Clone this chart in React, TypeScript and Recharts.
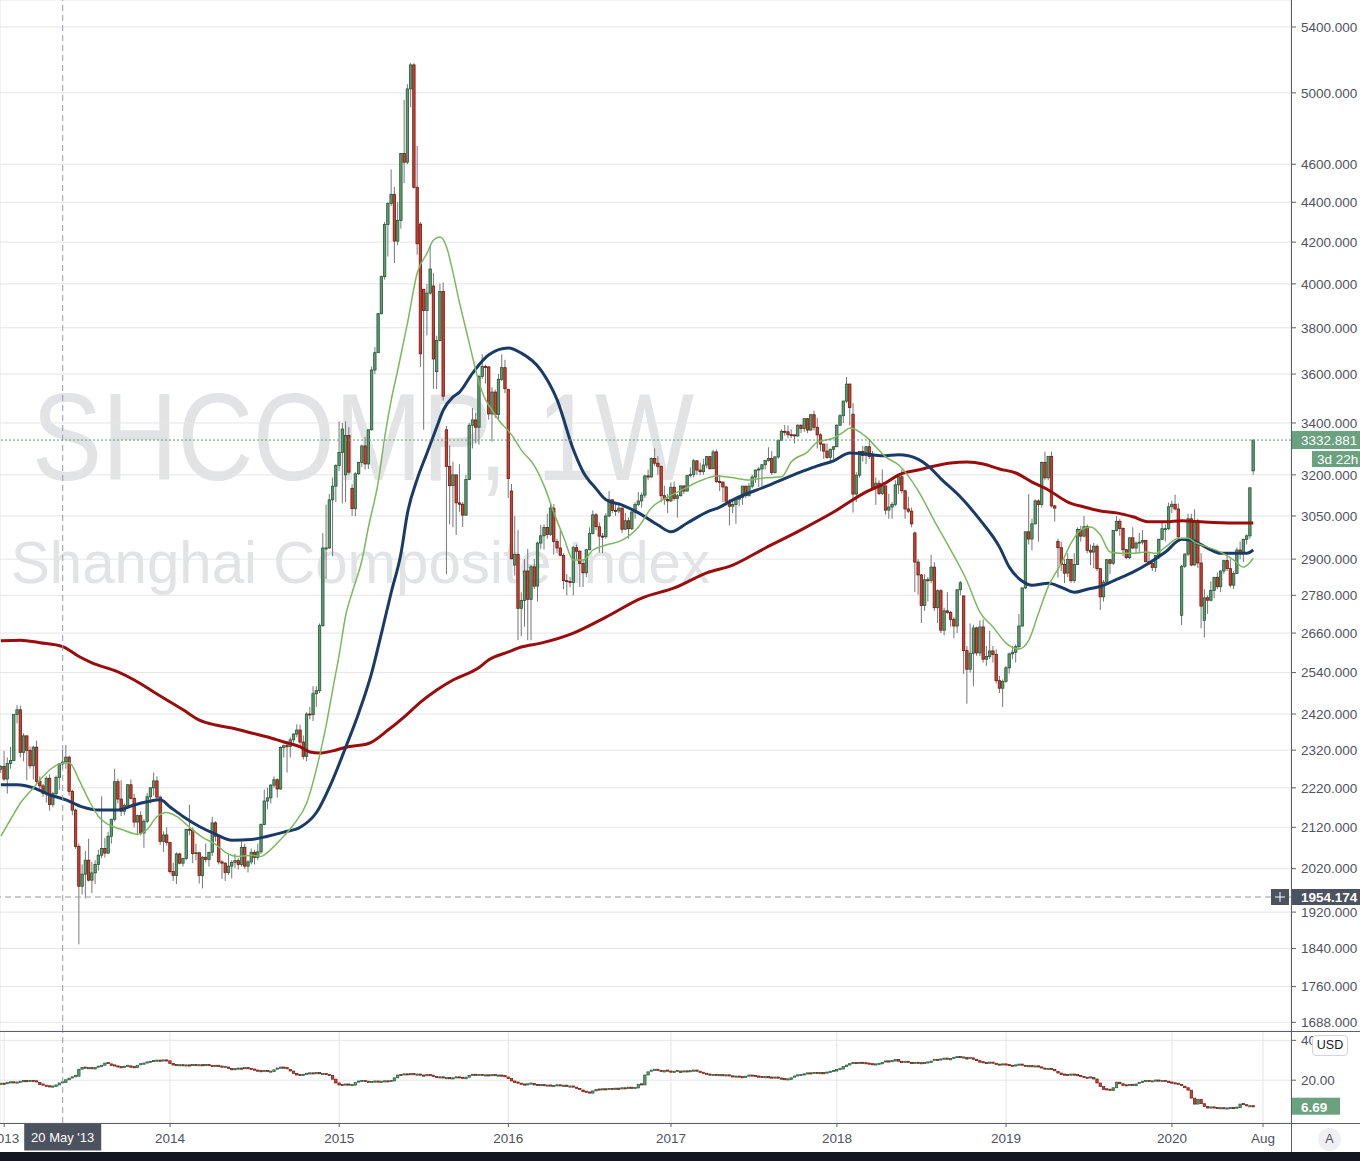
import React from 'react';
import { ComposedChart, Bar, Line, XAxis, YAxis, CartesianGrid, ReferenceLine } from 'recharts';

type OHLC = [number, number, number, number];

// ---------- weekly candles [open, high, low, close] ----------
const bars2013: OHLC[] = [
  [2269, 2280, 2259, 2276], [2276, 2318, 2238, 2243], [2243, 2300, 2205, 2284], [2284, 2329, 2270, 2292],
  [2292, 2420, 2290, 2419], [2419, 2445, 2394, 2432], [2432, 2444, 2300, 2314], [2314, 2366, 2290, 2359],
  [2359, 2360, 2240, 2319], [2319, 2330, 2270, 2278], [2278, 2332, 2242, 2328], [2328, 2346, 2230, 2237],
  [2237, 2250, 2215, 2225], [2225, 2230, 2197, 2206], [2206, 2250, 2182, 2245], [2245, 2255, 2162, 2177],
  [2177, 2210, 2170, 2205], [2205, 2252, 2200, 2247], [2247, 2286, 2215, 2283], [2283, 2320, 2270, 2288],
  [2288, 2334, 2270, 2301], [2301, 2305, 2200, 2211], [2211, 2215, 2150, 2163], [2163, 2167, 2067, 2073],
  [2073, 2080, 1849, 1979], [1979, 2030, 1960, 2007], [2007, 2062, 1951, 2040], [2040, 2092, 1990, 1993],
  [1993, 2036, 1963, 2010], [2010, 2040, 1984, 2030], [2030, 2065, 2015, 2052], [2052, 2198, 2045, 2068],
  [2068, 2094, 2046, 2057], [2057, 2109, 2055, 2098], [2098, 2141, 2080, 2140], [2140, 2270, 2135, 2236],
  [2236, 2244, 2180, 2191], [2191, 2240, 2148, 2160], [2160, 2180, 2150, 2175], [2175, 2230, 2170, 2228],
  [2228, 2242, 2190, 2193], [2193, 2205, 2120, 2133], [2133, 2152, 2100, 2149], [2149, 2160, 2100, 2106],
  [2106, 2140, 2070, 2135], [2135, 2207, 2130, 2197], [2197, 2222, 2180, 2220], [2220, 2260, 2200, 2238],
  [2238, 2250, 2190, 2196], [2196, 2200, 2077, 2085], [2085, 2110, 2060, 2101], [2101, 2120, 2075, 2083],
];
const bars2014: OHLC[] = [
  [2083, 2083, 2008, 2013], [2013, 2034, 1991, 2004], [2004, 2059, 1984, 2055], [2055, 2058, 2030, 2033],
  [2033, 2045, 2025, 2044], [2044, 2116, 2040, 2115], [2115, 2177, 2100, 2113], [2113, 2120, 2033, 2056],
  [2056, 2080, 2040, 2058], [2058, 2060, 1985, 2004], [2004, 2050, 1974, 2047], [2047, 2080, 2035, 2042],
  [2042, 2060, 2025, 2059], [2059, 2146, 2050, 2131], [2131, 2135, 2085, 2098], [2098, 2100, 2030, 2036],
  [2036, 2040, 1996, 2033], [2033, 2035, 1991, 2011], [2011, 2054, 2005, 2026], [2026, 2040, 1997, 2035],
  [2035, 2055, 2022, 2039], [2039, 2045, 2018, 2030], [2030, 2085, 2025, 2071], [2071, 2080, 2020, 2026],
  [2026, 2040, 2011, 2036], [2036, 2068, 2030, 2059], [2059, 2065, 2030, 2047], [2047, 2080, 2040, 2060],
  [2060, 2130, 2055, 2127], [2127, 2215, 2125, 2186], [2186, 2220, 2165, 2194], [2194, 2230, 2180, 2227],
  [2227, 2250, 2220, 2241], [2241, 2245, 2195, 2217], [2217, 2330, 2215, 2327], [2327, 2335, 2300, 2332],
  [2332, 2345, 2260, 2330], [2330, 2355, 2300, 2348], [2348, 2366, 2340, 2364], [2364, 2391, 2355, 2375],
  [2375, 2390, 2330, 2342], [2342, 2360, 2295, 2303], [2303, 2425, 2290, 2420], [2420, 2440, 2405, 2418],
  [2418, 2500, 2400, 2478], [2478, 2500, 2440, 2487], [2487, 2690, 2480, 2683], [2683, 2990, 2680, 2938],
  [2938, 3091, 2835, 2938], [2938, 3129, 2935, 3108], [3108, 3190, 2910, 3158], [3158, 3240, 3100, 3235],
];
const bars2015: OHLC[] = [
  [3235, 3406, 3214, 3285], [3285, 3400, 3095, 3376], [3200, 3406, 3100, 3351], [3351, 3383, 3200, 3210],
  [3150, 3165, 3050, 3076], [3076, 3210, 3049, 3204], [3204, 3250, 3200, 3247], [3247, 3315, 3230, 3310],
  [3310, 3345, 3220, 3241], [3241, 3375, 3222, 3373], [3373, 3632, 3370, 3617], [3617, 3715, 3600, 3691],
  [3691, 3865, 3690, 3863], [3863, 4040, 3860, 4034], [4034, 4300, 4020, 4287], [4287, 4400, 4130, 4394],
  [4394, 4572, 4380, 4441], [4441, 4480, 4099, 4205], [4205, 4400, 4185, 4308], [4308, 4660, 4266, 4658],
  [4658, 4958, 4500, 4611], [4611, 5051, 4600, 5023], [5023, 5178, 4917, 5166], [5166, 5176, 4470, 4478],
  [4478, 4700, 4139, 4192], [4289, 4300, 3629, 3686], [3975, 3975, 3373, 3877], [3877, 4000, 3766, 3957],
  [3957, 4184, 3950, 4070], [3990, 4050, 3538, 3664], [3610, 3765, 3537, 3744], [3744, 4000, 3740, 3965],
  [3965, 4006, 3490, 3508], [3373, 3388, 2850, 3232], [3232, 3312, 3020, 3160], [3160, 3250, 3010, 3200],
  [3200, 3200, 2983, 3097], [3097, 3240, 3065, 3092], [3092, 3100, 3011, 3053], [3053, 3200, 3050, 3183],
  [3183, 3400, 3180, 3391], [3391, 3460, 3300, 3412], [3412, 3440, 3320, 3383], [3383, 3596, 3315, 3590],
  [3590, 3684, 3580, 3632], [3632, 3640, 3560, 3630], [3630, 3634, 3413, 3436], [3436, 3545, 3327, 3525],
  [3525, 3535, 3420, 3434], [3434, 3600, 3410, 3578], [3578, 3684, 3570, 3627], [3627, 3660, 3520, 3539],
];
const bars2016: OHLC[] = [
  [3536, 3539, 3115, 3186], [3140, 3166, 2900, 2901], [2880, 3050, 2845, 2916], [2916, 3000, 2638, 2738],
  [2738, 2790, 2650, 2763], [2763, 2900, 2680, 2860], [2860, 2935, 2638, 2767], [2767, 2880, 2638, 2874],
  [2874, 2900, 2800, 2810], [2810, 2960, 2760, 2955], [2955, 3018, 2935, 2980], [2980, 3020, 2933, 3009],
  [3009, 3058, 2970, 2985], [2985, 3097, 2980, 3078], [3078, 3093, 2915, 2960], [2960, 2970, 2920, 2938],
  [2938, 3000, 2910, 2913], [2913, 2920, 2800, 2828], [2828, 2850, 2780, 2825], [2825, 2840, 2806, 2822],
  [2822, 2945, 2780, 2939], [2939, 2950, 2900, 2927], [2927, 2930, 2808, 2885], [2885, 2900, 2807, 2854],
  [2854, 2935, 2840, 2932], [2932, 3010, 2930, 2988], [2988, 3070, 2985, 3054], [3054, 3060, 3000, 3012],
  [3012, 3027, 2922, 2979], [2979, 2990, 2920, 2977], [2977, 3060, 2970, 3050], [3050, 3140, 3045, 3108],
  [3108, 3110, 3060, 3070], [3070, 3095, 3050, 3068], [3068, 3100, 3060, 3078], [3078, 3080, 2990, 3003],
  [3003, 3060, 3000, 3033], [3033, 3045, 2970, 3005], [3005, 3070, 3000, 3064], [3064, 3100, 3040, 3091],
  [3091, 3137, 3085, 3104], [3104, 3135, 3080, 3125], [3125, 3200, 3115, 3196], [3196, 3220, 3180, 3192],
  [3192, 3266, 3190, 3262], [3262, 3301, 3234, 3244], [3244, 3270, 3200, 3232], [3232, 3235, 3100, 3123],
  [3123, 3160, 3090, 3110], [3110, 3130, 3060, 3104],
];
const bars2017: OHLC[] = [
  [3104, 3172, 3100, 3154], [3154, 3175, 3105, 3113], [3113, 3130, 3044, 3123], [3123, 3160, 3120, 3159],
  [3159, 3160, 3130, 3140], [3140, 3200, 3140, 3197], [3197, 3228, 3190, 3202], [3202, 3260, 3190, 3253],
  [3253, 3255, 3200, 3218], [3218, 3246, 3200, 3212], [3212, 3260, 3200, 3237], [3237, 3270, 3225, 3269],
  [3269, 3270, 3220, 3223], [3223, 3295, 3222, 3287], [3287, 3296, 3170, 3175], [3175, 3200, 3140, 3173],
  [3173, 3175, 3100, 3155], [3155, 3160, 3100, 3103], [3103, 3110, 3016, 3085], [3085, 3110, 3060, 3091],
  [3091, 3115, 3022, 3110], [3110, 3125, 3085, 3117], [3117, 3160, 3090, 3158], [3158, 3160, 3115, 3123],
  [3123, 3170, 3120, 3158], [3158, 3200, 3150, 3192], [3192, 3220, 3170, 3218], [3218, 3230, 3155, 3222],
  [3222, 3240, 3150, 3238], [3238, 3255, 3220, 3254], [3254, 3305, 3250, 3262], [3262, 3290, 3200, 3209],
  [3209, 3270, 3205, 3268], [3268, 3333, 3260, 3332], [3332, 3375, 3330, 3367], [3367, 3392, 3350, 3365],
  [3365, 3390, 3340, 3354], [3354, 3375, 3340, 3353], [3353, 3355, 3320, 3349], [3349, 3395, 3345, 3391],
  [3391, 3395, 3360, 3378], [3378, 3420, 3365, 3417], [3417, 3420, 3360, 3372], [3372, 3435, 3370, 3433],
  [3433, 3450, 3370, 3383], [3383, 3420, 3300, 3353], [3353, 3360, 3290, 3317], [3317, 3320, 3260, 3290],
  [3290, 3320, 3260, 3266], [3266, 3300, 3250, 3297], [3297, 3310, 3260, 3307],
];
const bars2018: OHLC[] = [
  [3307, 3395, 3305, 3391], [3391, 3435, 3390, 3429], [3429, 3490, 3400, 3488], [3488, 3587, 3480, 3558],
  [3558, 3560, 3390, 3462], [3435, 3480, 3062, 3129], [3129, 3210, 3100, 3199], [3199, 3290, 3190, 3289],
  [3289, 3310, 3250, 3273], [3273, 3310, 3240, 3307], [3307, 3335, 3260, 3269], [3269, 3290, 3150, 3153],
  [3153, 3190, 3090, 3169], [3169, 3180, 3125, 3131], [3131, 3220, 3125, 3159], [3159, 3160, 3055, 3071],
  [3071, 3130, 3040, 3082], [3082, 3100, 3040, 3091], [3091, 3180, 3085, 3163], [3163, 3200, 3130, 3193],
  [3193, 3220, 3130, 3141], [3141, 3145, 3040, 3075], [3075, 3120, 3060, 3067], [3067, 3080, 3010, 3022],
  [2990, 2995, 2790, 2890], [2890, 2900, 2782, 2847], [2847, 2850, 2691, 2747], [2747, 2850, 2730, 2831],
  [2831, 2840, 2760, 2829], [2829, 2915, 2820, 2873], [2873, 2890, 2730, 2740], [2740, 2800, 2691, 2795],
  [2795, 2800, 2660, 2669], [2669, 2740, 2653, 2730], [2730, 2790, 2720, 2725], [2725, 2730, 2680, 2703],
  [2703, 2710, 2644, 2682], [2682, 2800, 2660, 2798], [2798, 2827, 2780, 2821], [2778, 2778, 2536, 2606],
  [2606, 2620, 2449, 2550], [2550, 2690, 2540, 2598], [2598, 2686, 2500, 2676], [2676, 2680, 2590, 2599],
  [2599, 2700, 2590, 2679], [2679, 2703, 2570, 2580], [2580, 2620, 2560, 2588], [2588, 2667, 2580, 2605],
  [2605, 2620, 2570, 2594], [2594, 2610, 2508, 2516], [2516, 2530, 2480, 2494], [2494, 2520, 2440, 2514],
];
const bars2019: OHLC[] = [
  [2514, 2560, 2510, 2554], [2554, 2600, 2537, 2596], [2596, 2620, 2580, 2601], [2601, 2625, 2570, 2618],
  [2618, 2720, 2610, 2682], [2682, 2805, 2680, 2804], [2804, 2995, 2800, 2994], [2994, 3129, 2950, 2969],
  [2969, 3040, 2930, 3022], [3022, 3110, 3020, 3104], [3104, 3110, 2960, 3091], [3091, 3250, 3080, 3247],
  [3247, 3288, 3180, 3189], [3189, 3270, 3180, 3270], [3270, 3288, 3080, 3086], [3086, 3090, 3030, 3078],
  [2960, 2970, 2838, 2939], [2939, 2960, 2860, 2882], [2882, 2900, 2820, 2853], [2853, 2920, 2840, 2899],
  [2899, 2900, 2820, 2828], [2828, 2920, 2820, 2882], [2882, 3010, 2880, 3002], [3002, 3015, 2960, 2979],
  [2979, 3050, 2975, 3012], [3012, 3020, 2920, 2930], [2930, 2950, 2880, 2924], [2924, 2955, 2870, 2944],
  [2944, 2950, 2860, 2868], [2868, 2870, 2733, 2775], [2775, 2830, 2760, 2823], [2823, 2900, 2820, 2898],
  [2898, 2900, 2850, 2886], [2886, 3000, 2880, 2999], [2999, 3050, 2995, 3031], [3031, 3040, 2980, 3006],
  [3006, 3010, 2910, 2932], [2932, 2935, 2900, 2905], [2905, 2975, 2900, 2973], [2973, 3010, 2935, 2938],
  [2938, 2960, 2920, 2955], [2955, 2990, 2920, 2958], [2958, 3000, 2950, 2964], [2964, 2965, 2890, 2891],
  [2891, 2925, 2880, 2885], [2885, 2900, 2860, 2872], [2872, 2915, 2857, 2912], [2912, 2970, 2900, 2968],
  [2968, 3025, 2965, 3005], [3005, 3020, 2960, 3005], [3005, 3098, 3000, 3083],
];
const bars2020: OHLC[] = [
  [3083, 3105, 3060, 3092], [3092, 3127, 3070, 3075], [3075, 3095, 2970, 2977], [2716, 2880, 2685, 2876],
  [2876, 2920, 2870, 2917], [2917, 3058, 2910, 3040], [3040, 3058, 2876, 2880], [2880, 3074, 2880, 3034],
  [3034, 3040, 2870, 2887], [2887, 2920, 2675, 2745], [2700, 2800, 2646, 2772], [2772, 2780, 2720, 2764],
  [2764, 2826, 2760, 2796], [2796, 2840, 2770, 2839], [2839, 2855, 2800, 2808], [2808, 2862, 2790, 2860],
  [2860, 2898, 2850, 2895], [2895, 2910, 2860, 2868], [2868, 2900, 2805, 2813], [2813, 2860, 2800, 2852],
  [2852, 2940, 2850, 2931], [2931, 2960, 2900, 2920], [2920, 2970, 2890, 2968], [2968, 2985, 2950, 2980],
  [2980, 3153, 2970, 3152], [3215, 3333, 3200, 3332.88],
];

// ---------- lower pane (weekly closes) ----------
const lowerOpen0 = 18.0;
const lower2013 = [18.2, 18.0, 18.5, 18.9, 18.6, 18.8, 19.2, 19.5, 19.3, 19.6, 19.4, 18.8, 17.8, 17.2, 16.9, 16.6, 16.8, 17.6, 18.6, 18.9, 20.2, 21.0, 21.4, 22.0, 25.5, 26.3, 25.8, 26.0, 25.6, 26.4, 26.8, 27.5, 28.6, 28.2, 27.4, 26.9, 26.5, 26.2, 26.7, 27.2, 26.5, 26.3, 27.5, 28.0, 28.3, 28.9, 29.2, 29.6, 29.8, 29.4, 29.9, 29.7];
const lower2014 = [28.4, 27.6, 27.2, 27.5, 27.3, 27.4, 27.0, 27.6, 27.3, 27.5, 27.2, 27.6, 27.1, 26.9, 27.2, 26.8, 26.5, 26.6, 25.9, 25.2, 25.5, 25.8, 25.4, 26.0, 25.7, 25.3, 24.8, 24.5, 24.2, 24.6, 24.0, 24.3, 25.2, 25.8, 26.3, 26.0, 25.4, 24.6, 23.4, 22.6, 22.3, 23.0, 23.2, 23.4, 23.2, 23.5, 22.9, 23.1, 22.6, 22.4, 20.5, 18.6];
const lower2015 = [17.6, 17.2, 17.8, 17.4, 17.5, 18.8, 19.3, 19.6, 19.2, 18.9, 19.1, 19.3, 18.9, 19.2, 19.4, 19.0, 19.6, 21.2, 22.6, 22.4, 22.9, 22.7, 23.0, 22.5, 22.8, 22.3, 22.1, 22.5, 22.2, 21.6, 21.2, 21.4, 20.8, 21.0, 20.6, 20.9, 21.4, 21.2, 20.7, 21.5, 22.4, 22.7, 22.3, 22.6, 22.1, 22.4, 22.2, 22.5, 21.9, 22.3, 22.0, 21.6];
const lower2016 = [20.8, 19.6, 18.8, 18.2, 17.8, 17.5, 17.9, 18.3, 17.6, 17.2, 17.5, 17.0, 17.3, 16.8, 17.1, 17.4, 16.9, 17.2, 16.6, 16.8, 16.2, 15.6, 15.1, 14.2, 13.8, 13.5, 14.6, 15.3, 15.0, 15.4, 15.2, 15.6, 15.3, 15.7, 15.5, 15.9, 15.6, 16.2, 15.8, 16.1, 17.9, 17.6, 22.6, 24.2, 24.8, 25.2, 24.6, 24.1, 24.8, 24.3];
const lower2017 = [23.8, 24.2, 24.6, 23.9, 24.4, 24.1, 24.5, 24.8, 24.2, 23.7, 23.2, 22.8, 22.4, 22.6, 22.2, 22.5, 22.1, 22.4, 21.9, 21.6, 21.8, 21.5, 21.4, 21.7, 22.3, 22.1, 21.8, 21.6, 21.2, 21.5, 21.3, 21.0, 21.3, 20.8, 20.5, 20.1, 20.4, 21.2, 21.8, 22.4, 22.6, 22.9, 23.4, 23.2, 23.6, 23.3, 23.5, 23.4, 23.8, 24.2, 24.6];
const lower2018 = [25.4, 25.6, 26.8, 27.6, 28.3, 28.6, 28.4, 28.7, 28.5, 28.3, 28.0, 27.6, 27.9, 28.2, 28.9, 29.4, 29.2, 29.6, 30.4, 29.5, 28.8, 29.2, 28.6, 28.4, 28.7, 28.5, 28.2, 28.6, 28.9, 29.6, 30.2, 29.9, 30.4, 30.8, 30.2, 30.9, 31.2, 31.6, 31.0, 31.4, 30.6, 31.2, 30.5, 29.8, 29.0, 28.6, 28.4, 28.8, 28.2, 27.8, 27.4, 27.9];
const lower2019 = [27.6, 27.2, 26.9, 27.4, 27.8, 27.2, 26.8, 27.0, 26.6, 26.9, 26.4, 25.8, 25.2, 25.6, 25.0, 24.4, 23.6, 22.8, 22.6, 22.3, 22.8, 22.5, 22.1, 21.6, 21.2, 20.8, 21.4, 20.6, 18.6, 16.8, 15.4, 15.2, 14.8, 16.2, 19.0, 18.2, 17.4, 17.0, 17.6, 17.2, 18.1, 18.6, 19.2, 19.6, 19.0, 19.4, 19.8, 19.3, 19.6, 19.2, 18.8];
const lower2020 = [18.4, 18.2, 17.6, 17.0, 16.2, 15.0, 11.0, 8.0, 10.4, 8.2, 6.8, 6.0, 6.3, 6.0, 5.8, 5.9, 5.6, 5.8, 6.0, 5.9, 6.2, 8.0, 7.4, 6.8, 6.9, 6.69];

// ---------- moving averages [barIndex, value] ----------
const maGreen: [number, number][] = [
  [0, 2098], [3, 2140], [6, 2181], [10, 2220], [14, 2259], [18, 2283], [21, 2286], [24, 2241], [27, 2189], [30, 2147],
  [33, 2127], [37, 2115], [42, 2103], [45, 2115], [48, 2147], [51, 2157], [54, 2147], [58, 2120], [62, 2095], [66, 2078],
  [69, 2059], [73, 2049], [77, 2052], [80, 2049], [82, 2059], [86, 2090], [90, 2127], [94, 2181], [98, 2306], [100, 2389],
  [102, 2490], [104, 2594], [106, 2716], [108, 2790], [111, 2897], [113, 3011], [116, 3174], [118, 3345], [120, 3493],
  [122, 3617], [125, 3822], [128, 4052], [131, 4146], [133, 4210], [135, 4225], [137, 4176], [139, 4052], [141, 3912],
  [143, 3791], [145, 3672], [147, 3563], [149, 3493], [151, 3452], [153, 3412], [157, 3353], [160, 3294], [164, 3234],
  [167, 3159], [170, 3061], [173, 2975], [176, 2897], [179, 2897], [182, 2931], [186, 2948], [191, 2965], [196, 3011],
  [200, 3079], [205, 3118], [210, 3148], [215, 3178], [220, 3196], [225, 3189], [230, 3181], [235, 3189], [240, 3193],
  [243, 3249], [248, 3287], [251, 3325], [256, 3341], [259, 3364], [261, 3380], [266, 3345], [269, 3306], [272, 3268],
  [276, 3237], [282, 3141], [287, 3032], [292, 2931], [297, 2826], [301, 2725], [305, 2679], [309, 2629], [313, 2611],
  [316, 2638], [319, 2723], [322, 2809], [326, 2886], [329, 2955], [332, 3001], [335, 3011], [338, 2983], [341, 2924],
  [344, 2920], [348, 2920], [352, 2924], [355, 2920], [358, 2941], [362, 2972], [365, 2972], [367, 2958], [371, 2941],
  [375, 2924], [379, 2897], [382, 2873], [385, 2903],
];
const maBlue: [number, number][] = [
  [0, 2228], [5, 2228], [10, 2220], [15, 2202], [20, 2189], [25, 2171], [30, 2163], [36, 2163], [41, 2176], [45, 2184],
  [49, 2189], [52, 2171], [56, 2147], [61, 2122], [66, 2103], [71, 2088], [77, 2090], [82, 2098], [87, 2108], [92, 2120],
  [97, 2157], [102, 2241], [106, 2328], [110, 2423], [114, 2540], [117, 2660], [120, 2790], [123, 2920], [125, 3061],
  [128, 3185], [131, 3283], [134, 3384], [136, 3452], [139, 3505], [141, 3525], [145, 3604], [150, 3682], [156, 3711],
  [160, 3689], [166, 3617], [171, 3493], [176, 3295], [179, 3211], [183, 3148], [186, 3108], [191, 3089], [196, 3061],
  [202, 3018], [206, 2994], [211, 3025], [217, 3064], [221, 3082], [225, 3108], [235, 3156], [246, 3211], [251, 3234],
  [256, 3253], [261, 3283], [266, 3279], [271, 3272], [276, 3276], [279, 3272], [285, 3234], [289, 3185], [295, 3118],
  [301, 3036], [307, 2941], [310, 2873], [314, 2826], [317, 2813], [322, 2819], [326, 2806], [330, 2790], [334, 2800],
  [338, 2809], [343, 2832], [348, 2856], [353, 2887], [358, 2924], [363, 2968], [366, 2965], [371, 2937], [375, 2920],
  [379, 2920], [383, 2920], [385, 2931],
];
const maRed: [number, number][] = [
  [0, 2636], [6, 2638], [12, 2630], [19, 2618], [24, 2588], [28, 2569], [36, 2542], [41, 2518], [46, 2489], [51, 2460],
  [56, 2432], [61, 2403], [66, 2389], [71, 2381], [77, 2367], [82, 2356], [87, 2342], [92, 2329], [95, 2315], [98, 2312],
  [102, 2318], [106, 2328], [113, 2338], [119, 2375], [124, 2412], [129, 2454], [134, 2489], [139, 2518], [147, 2555],
  [150, 2578], [156, 2602], [160, 2617], [166, 2629], [176, 2660], [186, 2710], [197, 2771], [207, 2804], [217, 2854],
  [225, 2880], [235, 2938], [246, 3001], [256, 3064], [266, 3137], [272, 3170], [276, 3200], [282, 3218], [287, 3233],
  [292, 3245], [297, 3248], [302, 3241], [307, 3222], [312, 3207], [317, 3173], [322, 3144], [328, 3100], [333, 3082],
  [338, 3068], [343, 3061], [348, 3047], [353, 3029], [358, 3029], [363, 3033], [369, 3029], [379, 3025], [385, 3025],
];

// ---------- axes ----------
const yearTickIdx = [1, 52, 104, 156, 206, 257, 309, 360, 388];
const yearTickLabels = ['2013', '2014', '2015', '2016', '2017', '2018', '2019', '2020', 'Aug'];
const priceTicks = [1688, 1760, 1840, 1920, 2020, 2120, 2220, 2320, 2420, 2540, 2660, 2780, 2900, 3050, 3200, 3400, 3600, 3800, 4000, 4200, 4400, 4600, 5000, 5400];
const lowerTicks = [20, 40];
const lastPrice = 3332.881;
const lastPriceText = '3332.881';
const countdownText = '3d 22h';
const crossPrice = 1954.174;
const crossPriceText = '1954.174';
const crossBar = 19;
const crossDateText = "20 May '13";
const lastLower = 6.69;
const lastLowerText = '6.69';

const X_DOMAIN: [number, number] = [-0.28, 396.6];
const Y_DOMAIN: [number, number] = [1671, 5573];
const L_DOMAIN: [number, number] = [-1.5, 44.7];

// ---------- build series ----------
const allBars = [...bars2013, ...bars2014, ...bars2015, ...bars2016, ...bars2017, ...bars2018, ...bars2019, ...bars2020];
const candleData = allBars.map((b, i) => ({ i, o: b[0], h: b[1], l: b[2], c: b[3], range: [b[2], b[1]] }));
const lowerAll = [...lower2013, ...lower2014, ...lower2015, ...lower2016, ...lower2017, ...lower2018, ...lower2019, ...lower2020];
const lowerData = lowerAll.map((c, i) => {
  const o = i === 0 ? lowerOpen0 : lowerAll[i - 1];
  return { i, o, c, range: [Math.min(o, c), Math.max(o, c)] };
});
const toXY = (arr: [number, number][]) => arr.map(([i, v]) => ({ i, v }));
const greenData = toXY(maGreen);
const blueData = toXY(maBlue);
const redData = toXY(maRed);

const FONT = '"Liberation Sans", Arial, Helvetica, sans-serif';
const TEXT = '#50535e';
const GRID = '#e5e5e5';
const UP_FILL = '#5a9c6c';
const UP_EDGE = '#27573a';
const DN_FILL = '#cf3f2e';
const DN_EDGE = '#6b1b12';
const WICK = '#767676';
const TAG_GREEN = '#6aa17e';
const TAG_DARK = '#4c525e';
const AXIS = '#5d606b';

const CandleShape = (props: any) => {
  const { x, y, width, height, payload } = props;
  if (!payload || !Number.isFinite(x) || !Number.isFinite(y) || !Number.isFinite(height)) return <g />;
  const { o, h, l, c } = payload;
  const top = Math.min(y, y + height);
  const bot = Math.max(y, y + height);
  const lh = Math.log(h);
  const ll = Math.log(l);
  const py = (v: number) => (lh === ll ? top : top + ((bot - top) * (lh - Math.log(v))) / (lh - ll));
  const cx = x + width / 2;
  const up = c >= o;
  const yo = py(o);
  const yc = py(c);
  const bt = Math.min(yo, yc);
  const bh = Math.max(Math.abs(yc - yo), 1);
  return (
    <g>
      <line x1={cx} x2={cx} y1={top} y2={bot} stroke={WICK} strokeWidth={1} />
      <rect x={cx - 1.2} y={bt} width={2.4} height={bh} fill={up ? UP_FILL : DN_FILL} stroke={up ? UP_EDGE : DN_EDGE} strokeWidth={0.8} />
    </g>
  );
};

const LowerCandleShape = (props: any) => {
  const { x, y, width, height, payload } = props;
  if (!payload || !Number.isFinite(x) || !Number.isFinite(y)) return <g />;
  const top = Math.min(y, y + (height || 0));
  const h = Math.max(Math.abs(height || 0), 1.2);
  const cx = x + width / 2;
  const up = payload.c >= payload.o;
  return (
    <rect x={cx - 1.2} y={top - (h > Math.abs(height || 0) ? 0.6 : 0)} width={2.4} height={h} fill={up ? UP_FILL : DN_FILL} stroke={up ? UP_EDGE : DN_EDGE} strokeWidth={0.7} />
  );
};

const LastPriceTag = (props: any) => {
  const vb = props.viewBox;
  if (!vb) return null;
  const ax = vb.x + vb.width;
  const yy = vb.y;
  return (
    <g>
      <rect x={ax} y={yy - 9} width={69} height={18} fill={TAG_GREEN} />
      <text x={ax + 10} y={yy} dy="0.36em" fill="#ffffff" fontSize={13.5} fontFamily={FONT}>{lastPriceText}</text>
      <rect x={ax + 21} y={yy + 11} width={48} height={16} fill={TAG_GREEN} />
      <text x={ax + 26} y={yy + 19} dy="0.36em" fill="#ffffff" fontSize={13.5} fontFamily={FONT}>{countdownText}</text>
    </g>
  );
};

const CrossPriceTag = (props: any) => {
  const vb = props.viewBox;
  if (!vb) return null;
  const ax = vb.x + vb.width;
  const yy = vb.y;
  return (
    <g>
      <rect x={ax - 20} y={yy - 8} width={18} height={16} fill={TAG_DARK} />
      <line x1={ax - 16} x2={ax - 6} y1={yy} y2={yy} stroke="#fff" strokeWidth={1} />
      <line x1={ax - 11} x2={ax - 11} y1={yy - 5} y2={yy + 5} stroke="#fff" strokeWidth={1} />
      <rect x={ax} y={yy - 8} width={69} height={16} fill={TAG_DARK} />
      <text x={ax + 10} y={yy} dy="0.36em" fill="#ffffff" fontSize={13.5} fontFamily={FONT} fontWeight={600}>{crossPriceText}</text>
    </g>
  );
};

const LowerTag = (props: any) => {
  const vb = props.viewBox;
  if (!vb) return null;
  const ax = vb.x + vb.width;
  const yy = vb.y;
  return (
    <g>
      <rect x={ax} y={yy - 9} width={49} height={17} fill={TAG_GREEN} />
      <text x={ax + 10} y={yy} dy="0.36em" fill="#ffffff" fontSize={13.5} fontFamily={FONT} fontWeight={600}>{lastLowerText}</text>
    </g>
  );
};

const DateTag = (props: any) => {
  const vb = props.viewBox;
  if (!vb) return null;
  const cx = vb.x;
  const top = vb.y + vb.height;
  return (
    <g>
      <rect x={cx - 38.5} y={top + 0.5} width={77} height={27} fill={TAG_DARK} />
      <text x={cx} y={top + 14} dy="0.36em" textAnchor="middle" fill="#ffffff" fontSize={13} fontFamily={FONT}>{crossDateText}</text>
    </g>
  );
};

const tickLabelOf = (v: number) => {
  const k = yearTickIdx.indexOf(v);
  return k >= 0 ? yearTickLabels[k] : '';
};

export default function App() {
  return (
    <div style={{ position: 'absolute', left: 0, top: 0, width: 1360, height: 1161, background: '#ffffff', overflow: 'hidden', fontFamily: FONT }}>
      <svg style={{ position: 'absolute', left: 0, top: 0 }} width={1291} height={1031}>
        <text x={32} y={480} fontSize={125} fill="#e2e3e5" textLength={662} lengthAdjust="spacingAndGlyphs" fontFamily={FONT}>SHCOMP, 1W</text>
        <text x={11} y={583} fontSize={60} fill="#e2e3e5" textLength={699} lengthAdjust="spacingAndGlyphs" fontFamily={FONT}>Shanghai Composite Index</text>
      </svg>

      <div style={{ position: 'absolute', left: 0, top: 0 }}>
        <ComposedChart width={1360} height={1031} data={candleData} margin={{ top: 0, right: 0, bottom: 0, left: 0 }}>
          <CartesianGrid stroke={GRID} />
          <XAxis dataKey="i" type="number" domain={X_DOMAIN} allowDataOverflow ticks={yearTickIdx} interval={0} height={0} tick={false} tickLine={false} axisLine={false} />
          <YAxis
            orientation="right"
            width={69}
            scale="log"
            domain={Y_DOMAIN}
            allowDataOverflow
            ticks={priceTicks}
            interval={0}
            tickFormatter={(v: number) => Number(v).toFixed(3)}
            tick={{ fill: TEXT, fontSize: 13.5, fontFamily: FONT }}
            tickSize={5}
            tickMargin={5}
            axisLine={false}
            tickLine={{ stroke: AXIS }}
          />
          <Bar dataKey="range" barSize={3} shape={CandleShape} isAnimationActive={false} />
          <Line data={redData} dataKey="v" type="monotone" stroke="#990d0d" strokeWidth={3} dot={false} activeDot={false} isAnimationActive={false} />
          <Line data={blueData} dataKey="v" type="monotone" stroke="#1a3a68" strokeWidth={3} dot={false} activeDot={false} isAnimationActive={false} />
          <Line data={greenData} dataKey="v" type="monotone" stroke="#7bb95f" strokeWidth={1.5} dot={false} activeDot={false} isAnimationActive={false} />
          <ReferenceLine x={crossBar} stroke="#9598a1" strokeDasharray="6 4" />
          <ReferenceLine y={crossPrice} stroke="#9598a1" strokeDasharray="6 4" label={<CrossPriceTag />} />
          <ReferenceLine y={lastPrice} stroke="#5f9e72" strokeDasharray="2 2" label={<LastPriceTag />} />
        </ComposedChart>
      </div>

      <div style={{ position: 'absolute', left: 0, top: 1031 }}>
        <ComposedChart width={1360} height={121} data={lowerData} margin={{ top: 0, right: 0, bottom: 0, left: 0 }}>
          <CartesianGrid stroke={GRID} />
          <XAxis
            dataKey="i"
            type="number"
            domain={X_DOMAIN}
            allowDataOverflow
            ticks={yearTickIdx}
            interval={0}
            tickFormatter={tickLabelOf}
            height={29}
            tick={{ fill: TEXT, fontSize: 13.5, fontFamily: FONT }}
            tickSize={4}
            tickMargin={6}
            axisLine={false}
            tickLine={{ stroke: AXIS }}
          />
          <YAxis
            orientation="right"
            width={69}
            domain={L_DOMAIN}
            allowDataOverflow
            ticks={lowerTicks}
            interval={0}
            tickFormatter={(v: number) => Number(v).toFixed(2)}
            tick={{ fill: TEXT, fontSize: 13.5, fontFamily: FONT }}
            tickSize={5}
            tickMargin={5}
            axisLine={false}
            tickLine={{ stroke: AXIS }}
          />
          <Bar dataKey="range" barSize={3} shape={LowerCandleShape} isAnimationActive={false} />
          <ReferenceLine x={crossBar} stroke="#9598a1" strokeDasharray="6 4" label={<DateTag />} />
          <ReferenceLine y={lastLower} stroke="none" strokeOpacity={0} label={<LowerTag />} />
        </ComposedChart>
      </div>

      <div style={{ position: 'absolute', left: 1291, top: 0, width: 1, height: 1152, background: AXIS }} />
      <div style={{ position: 'absolute', left: 0, top: 1031, width: 1360, height: 1, background: AXIS }} />
      <div style={{ position: 'absolute', left: 0, top: 1123, width: 1360, height: 1, background: AXIS }} />
      <div style={{ position: 'absolute', left: 1312, top: 1035, width: 36, height: 21, boxSizing: 'border-box', border: '1px solid #d1d4dc', borderRadius: 4, background: '#ffffff', color: '#131722', fontSize: 12.5, lineHeight: '19px', textAlign: 'center', fontFamily: FONT }}>USD</div>
      <div style={{ position: 'absolute', left: 1318, top: 1128, width: 23, height: 23, borderRadius: '50%', background: '#eef0f3', color: TEXT, fontSize: 12.5, lineHeight: '23px', textAlign: 'center', fontFamily: FONT }}>A</div>
      <div style={{ position: 'absolute', left: 0, top: 1152, width: 1360, height: 9, background: '#131722' }} />
    </div>
  );
}
